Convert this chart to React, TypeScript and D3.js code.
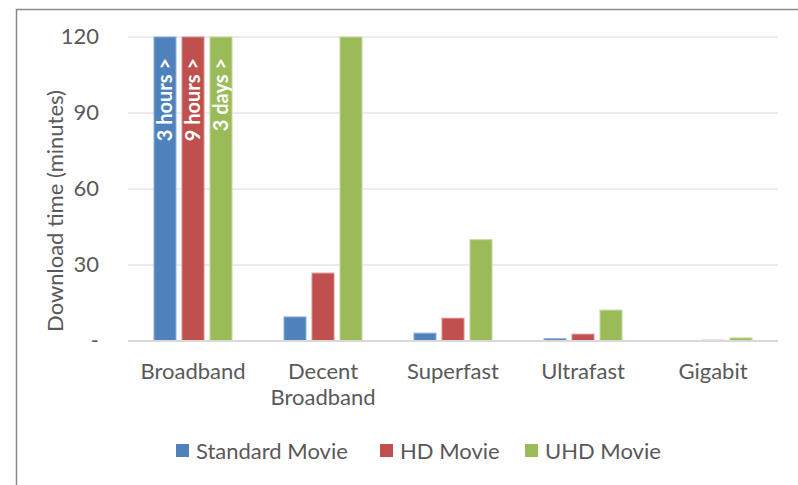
import React, { useEffect, useRef } from 'react';
import * as d3 from 'd3';

const categories = [['Broadband'], ['Decent', 'Broadband'], ['Superfast'], ['Ultrafast'], ['Gigabit']];
const seriesNames = ['Standard Movie', 'HD Movie', 'UHD Movie'];
const colors = ['#4f81bd', '#c0504d', '#9bbb59'];
const borders = ['#8eaedb', '#dc8f8d', '#c3d9a0'];
// minutes; Broadband values run past the axis and get clipped
const standardMovie = [180, 9.5, 3.1, 0.9, 0.1];
const hdMovie = [540, 26.8, 9, 2.7, 0.3];
const uhdMovie = [4320, 120, 40, 12.2, 1.2];
const overflowLabels = ['3 hours >', '9 hours >', '3 days >'];
const yTicks = [0, 30, 60, 90, 120];

const FONT = 'Lato, "Open Sans", sans-serif';
const TXT = '#595959';
const FS = 22;

export default function App() {
  const ref = useRef<SVGSVGElement>(null);

  useEffect(() => {
    const width = 798, height = 485;
    const svg = d3.select(ref.current);
    svg.selectAll('*').remove();
    svg.attr('width', width).attr('height', height);

    svg.append('rect').attr('width', width).attr('height', height).attr('fill', '#fff');
    // chart frame, cut off at the right and bottom
    svg.append('rect').attr('x', 16.5).attr('y', 9.5).attr('width', 800).attr('height', 500)
      .attr('fill', 'none').attr('stroke', '#8a8a8a').attr('stroke-width', 1.5);

    const left = 128, right = 778, top = 37, bottom = 341;
    const keys = categories.map(c => c.join(' '));
    const x0 = d3.scaleBand().domain(keys).range([left, right]);
    const x1 = d3.scaleBand().domain(seriesNames).range([0, 84]).paddingInner(0.214).paddingOuter(0.107);
    const y = d3.scaleLinear().domain([0, 120]).range([bottom, top]).clamp(true);

    const g = svg.append('g');
    // gridlines
    g.selectAll('line.grid').data(yTicks.slice(1)).enter().append('line')
      .attr('x1', left).attr('x2', right).attr('y1', d => y(d)).attr('y2', d => y(d))
      .attr('stroke', '#d9d9d9').attr('stroke-width', 1.2);

    // y tick labels
    g.selectAll('text.yt').data(yTicks).enter().append('text')
      .attr('x', 99).attr('y', d => y(d) + 7).attr('text-anchor', 'end')
      .attr('font-family', FONT).attr('font-size', FS).attr('fill', TXT)
      .text(d => (d === 0 ? '-' : String(d)));

    svg.append('text')
      .attr('transform', `translate(63,${(top + bottom) / 2 + 22}) rotate(-90)`)
      .attr('text-anchor', 'middle').attr('font-family', FONT).attr('font-size', FS).attr('fill', TXT)
      .text('Download time (minutes)');

    const all = [standardMovie, hdMovie, uhdMovie];
    seriesNames.forEach((name, si) => {
      const vals = all[si];
      g.selectAll(`rect.s${si}`).data(vals).enter().append('rect')
        .attr('x', (d, i) => x0(keys[i])! + x0.bandwidth() / 2 - 42 + x1(name)!)
        .attr('y', d => y(d))
        .attr('width', x1.bandwidth())
        .attr('height', d => bottom - y(d))
        .attr('fill', colors[si])
        .attr('stroke', borders[si]).attr('stroke-width', 1);

      // overflow label on the clipped Broadband bar
      const bx = x0(keys[0])! + x0.bandwidth() / 2 - 42 + x1(name)! + x1.bandwidth() / 2;
      g.append('text')
        .attr('transform', `translate(${bx + 7},${top + 21}) rotate(-90)`)
        .attr('text-anchor', 'end').attr('font-family', FONT).attr('font-weight', 'bold')
        .attr('font-size', 20).attr('fill', '#fff')
        .text(overflowLabels[si]);
    });

    // baseline
    g.append('line').attr('x1', left).attr('x2', right).attr('y1', bottom).attr('y2', bottom)
      .attr('stroke', '#d9d9d9').attr('stroke-width', 2);

    // category labels
    categories.forEach((lines, i) => {
      const t = g.append('text').attr('text-anchor', 'middle')
        .attr('font-family', FONT).attr('font-size', FS).attr('fill', TXT);
      lines.forEach((ln, j) => {
        t.append('tspan').attr('x', x0(keys[i])! + x0.bandwidth() / 2).attr('y', 379 + j * 26).text(ln);
      });
    });

    // legend
    const legX = [176, 380, 525];
    seriesNames.forEach((name, si) => {
      svg.append('rect').attr('x', legX[si]).attr('y', 444).attr('width', 13).attr('height', 13).attr('fill', colors[si]);
      svg.append('text').attr('x', legX[si] + 20).attr('y', 459)
        .attr('font-family', FONT).attr('font-size', FS).attr('fill', TXT).text(name);
    });
  }, []);

  return <svg ref={ref} style={{ position: 'absolute', left: 0, top: 0 }} />;
}
